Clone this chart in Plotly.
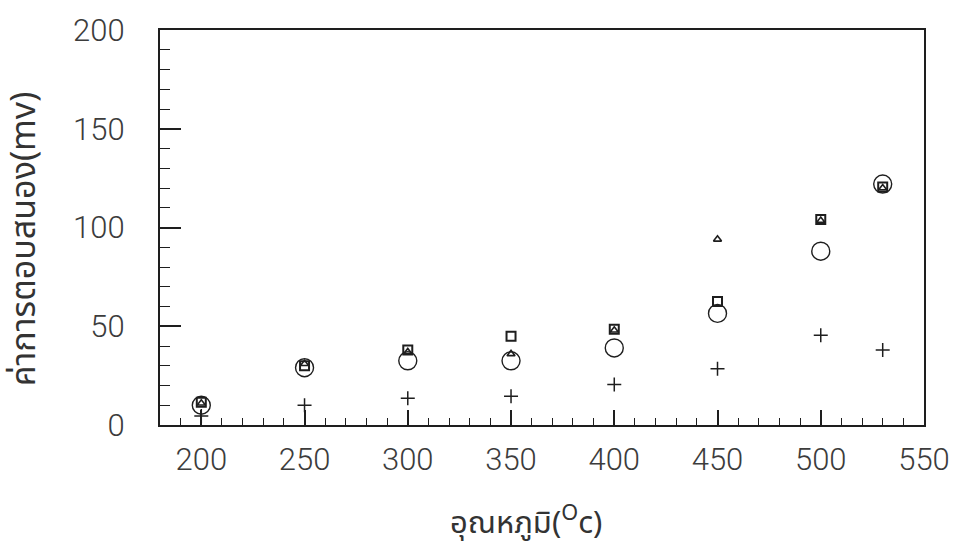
import plotly.graph_objects as go

# Temperature (°C) and detector response (mV) for four runs
temperature = [200, 250, 300, 350, 400, 450, 500, 530]
resp_circle = [10, 29, 32.5, 32.5, 39, 56.5, 88, 122]
resp_square = [11.5, 30, 38, 45, 48.5, 62.5, 104, 120.5]
resp_triangle = [11, 31, 37, 36, 48, 94, 103.5, 120]
resp_plus = [4.5, 10, 13.5, 14.5, 20.5, 28.5, 45.5, 38]

x_ticks = [200, 250, 300, 350, 400, 450, 500, 550]
y_ticks = [0, 50, 100, 150, 200]

INK = "#1e1e1e"
TICK_FONT = dict(family="Roboto, Liberation Sans, sans-serif",
                 size=31, color="#3c3c3c", weight=300)
THAI_FONT = dict(family="Noto Sans Thai, Loma, Garuda, Noto Sans, sans-serif",
                 size=31, color="#333333")

fig = go.Figure()

series = [
    (resp_circle, "circle-open", 18, 1.4),
    (resp_square, "square-open", 9, 2.0),
    (resp_triangle, "triangle-up-open", 7, 1.6),
    (resp_plus, "cross-thin-open", 10, 1.5),
]
for values, symbol, size, lw in series:
    fig.add_trace(go.Scatter(
        x=temperature, y=values, mode="markers",
        marker=dict(symbol=symbol, size=size, color=INK,
                    line=dict(color=INK, width=lw)),
        showlegend=False, hoverinfo="x+y",
    ))

fig.update_xaxes(
    range=[180, 550], tickvals=x_ticks, ticks="inside", ticklen=15,
    tickwidth=1.5, tickcolor=INK, tickfont=TICK_FONT, ticklabelstandoff=6,
    minor=dict(ticks="inside", ticklen=7, dtick=10, tick0=180,
               tickwidth=1.3, tickcolor=INK),
    showline=True, linewidth=2.2, linecolor=INK, mirror=True,
    showgrid=False, zeroline=False,
)
fig.update_yaxes(
    range=[0, 200], tickvals=y_ticks, ticks="inside", ticklen=21,
    tickwidth=1.5, tickcolor=INK, tickfont=TICK_FONT, ticklabelstandoff=27,
    minor=dict(ticks="inside", ticklen=10, dtick=10, tick0=0,
               tickwidth=1.3, tickcolor=INK),
    showline=True, linewidth=2.2, linecolor=INK, mirror=True,
    showgrid=False, zeroline=False,
)

fig.add_annotation(
    text="อุณหภูมิ(<sup>O</sup>c)", xref="paper", yref="paper",
    x=0.479, y=-0.245, showarrow=False, font=THAI_FONT,
    xanchor="center", yanchor="middle",
)
fig.add_annotation(
    text="ค่าการตอบสนอง(mv)", xref="paper", yref="paper",
    x=-0.177, y=0.472, showarrow=False, font=dict(THAI_FONT, size=34),
    textangle=-90, xanchor="center", yanchor="middle",
)

fig.update_layout(
    width=962, height=554,
    margin=dict(l=160, r=34, t=27, b=129),
    paper_bgcolor="white", plot_bgcolor="white",
)

fig.write_html("out.html")
